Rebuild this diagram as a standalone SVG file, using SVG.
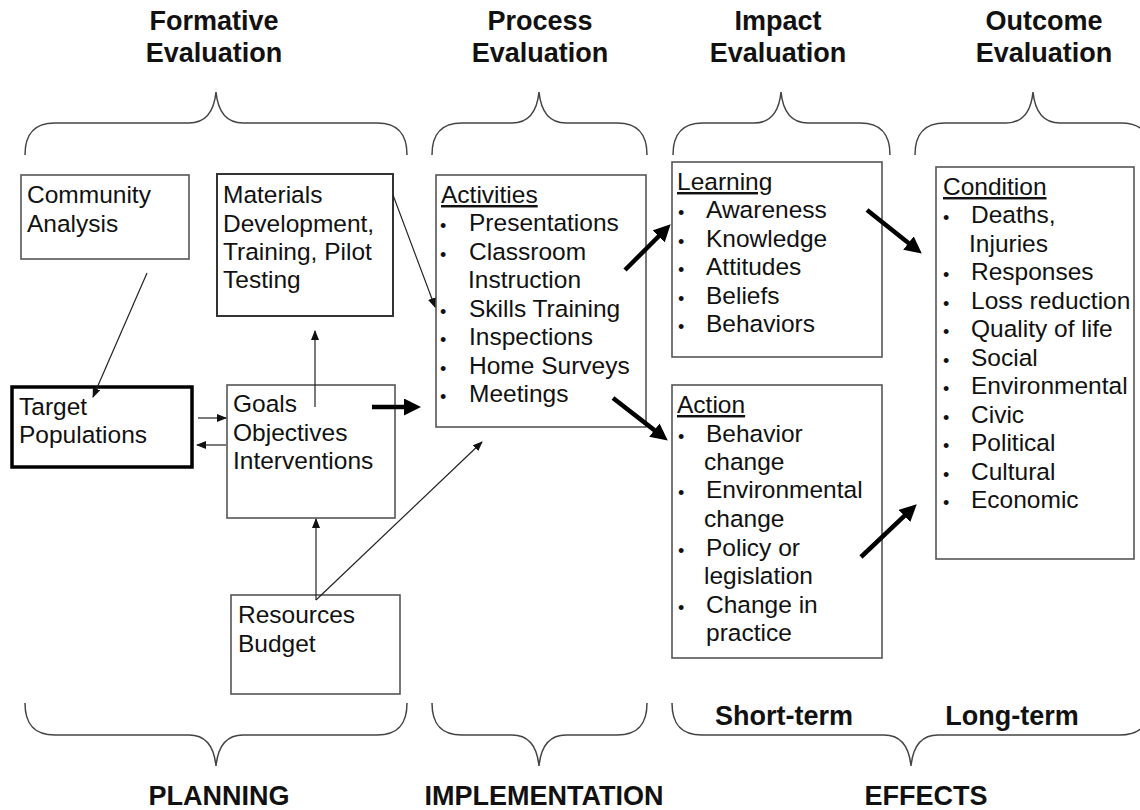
<svg xmlns="http://www.w3.org/2000/svg" width="1140" height="810" viewBox="0 0 1140 810">
<style>
  .t{font-family:"Liberation Sans",Arial,sans-serif;font-size:24.5px;fill:#111}
  .h{font-family:"Liberation Sans",Arial,sans-serif;font-size:27px;font-weight:bold;fill:#111;text-anchor:middle}
  .u{text-decoration:underline}
  .b{font-family:"Liberation Sans",Arial,sans-serif;font-size:18px;fill:#111}
  .box{fill:#fff;stroke:#555;stroke-width:1.6}
  .brace{fill:none;stroke:#444;stroke-width:1.5}
  .thin{stroke:#222;stroke-width:1.2;fill:none}
  .thick{stroke:#000;stroke-width:4.5;fill:none}
</style>
<defs>
  <marker id="ah" viewBox="0 0 10 8" markerWidth="10" markerHeight="8" refX="9" refY="4" orient="auto" markerUnits="userSpaceOnUse">
    <path d="M0,0 L10,4 L0,8 z" fill="#111"/>
  </marker>
  <marker id="ahb" viewBox="0 0 17 17" markerWidth="17" markerHeight="17" refX="4" refY="8.5" orient="auto" markerUnits="userSpaceOnUse">
    <path d="M0,0 L17,8.5 L0,17 z" fill="#000"/>
  </marker>
</defs>
<rect width="1140" height="810" fill="#fff"/>

<g id="titles">
  <text class="h" x="214" y="30">Formative</text>
  <text class="h" x="214" y="62">Evaluation</text>
  <text class="h" x="540" y="30">Process</text>
  <text class="h" x="540" y="62">Evaluation</text>
  <text class="h" x="778" y="30">Impact</text>
  <text class="h" x="778" y="62">Evaluation</text>
  <text class="h" x="1044" y="30">Outcome</text>
  <text class="h" x="1044" y="62">Evaluation</text>
  <text class="h" x="784" y="725">Short-term</text>
  <text class="h" x="1012" y="725">Long-term</text>
  <text class="h" x="219" y="805">PLANNING</text>
  <text class="h" x="544" y="805">IMPLEMENTATION</text>
  <text class="h" x="926" y="805">EFFECTS</text>
</g>

<g id="braces">
  <path class="brace" d="M25,155 C25,135 33,123 55,123 L189,123 C205,123 214,112 216,92 C218,112 227,123 243,123 L377,123 C399,123 407,135 407,155"/>
  <path class="brace" d="M432,155 C432,135 440,123 462,123 L512,123 C528,123 537,112 539,92 C541,112 550,123 566,123 L617,123 C639,123 647,135 647,155"/>
  <path class="brace" d="M673,155 C673,135 681,123 703,123 L754,123 C770,123 779,112 781,92 C783,112 792,123 808,123 L860,123 C882,123 890,135 890,155"/>
  <path class="brace" d="M915,155 C915,135 923,123 945,123 L1006,123 C1022,123 1031,112 1033,92 C1035,112 1044,123 1060,123 L1121,123 C1143,123 1151,135 1151,155"/>
  <path class="brace" d="M25,703 C25,723 33,735 55,735 L189,735 C205,735 214,746 216,766 C218,746 227,735 243,735 L377,735 C399,735 407,723 407,703"/>
  <path class="brace" d="M432,703 C432,723 440,735 462,735 L512,735 C528,735 537,746 539,766 C541,746 550,735 566,735 L617,735 C639,735 647,723 647,703"/>
  <path class="brace" d="M672,703 C672,723 680,735 702,735 L884,735 C900,735 909,746 911,766 C913,746 922,735 938,735 L1120,735 C1142,735 1150,723 1150,703"/>
</g>

<g id="community">
  <rect class="box" x="21" y="175" width="168" height="84"/>
  <text class="t" x="27" y="203">Community</text>
  <text class="t" x="27" y="232">Analysis</text>
</g>

<g id="materials">
  <rect class="box" x="217" y="174" width="176" height="142" style="stroke:#333;stroke-width:2"/>
  <text class="t" x="223" y="203">Materials</text>
  <text class="t" x="223" y="232">Development,</text>
  <text class="t" x="223" y="260">Training, Pilot</text>
  <text class="t" x="223" y="288">Testing</text>
</g>

<g id="target">
  <rect x="12" y="387" width="180" height="80" fill="#fff" stroke="#000" stroke-width="3.5"/>
  <text class="t" x="19" y="415">Target</text>
  <text class="t" x="19" y="443">Populations</text>
</g>

<g id="goals">
  <rect class="box" x="227" y="385" width="168" height="133"/>
  <text class="t" x="233" y="412">Goals</text>
  <text class="t" x="233" y="441">Objectives</text>
  <text class="t" x="233" y="469">Interventions</text>
</g>

<g id="resources">
  <rect class="box" x="231" y="595" width="169" height="99"/>
  <text class="t" x="238" y="623">Resources</text>
  <text class="t" x="238" y="652">Budget</text>
</g>

<g id="activities">
  <rect class="box" x="436" y="175" width="210" height="252"/>
  <text class="t u" x="441" y="203">Activities</text>
  <text class="b" x="440" y="232">•</text><text class="t" x="469" y="231">Presentations</text>
  <text class="b" x="440" y="261">•</text><text class="t" x="469" y="260">Classroom</text>
  <text class="t" x="468" y="288">Instruction</text>
  <text class="b" x="440" y="318">•</text><text class="t" x="469" y="317">Skills Training</text>
  <text class="b" x="440" y="346">•</text><text class="t" x="469" y="345">Inspections</text>
  <text class="b" x="440" y="375">•</text><text class="t" x="469" y="374">Home Surveys</text>
  <text class="b" x="440" y="403">•</text><text class="t" x="469" y="402">Meetings</text>
</g>

<g id="learning">
  <rect class="box" x="672" y="162" width="210" height="195"/>
  <text class="t u" x="677" y="190">Learning</text>
  <text class="b" x="678" y="219">•</text><text class="t" x="706" y="218">Awareness</text>
  <text class="b" x="678" y="248">•</text><text class="t" x="706" y="247">Knowledge</text>
  <text class="b" x="678" y="276">•</text><text class="t" x="706" y="275">Attitudes</text>
  <text class="b" x="678" y="305">•</text><text class="t" x="706" y="304">Beliefs</text>
  <text class="b" x="678" y="333">•</text><text class="t" x="706" y="332">Behaviors</text>
</g>

<g id="action">
  <rect class="box" x="672" y="385" width="210" height="273"/>
  <text class="t u" x="677" y="413">Action</text>
  <text class="b" x="678" y="443">•</text><text class="t" x="706" y="442">Behavior</text>
  <text class="t" x="704" y="470">change</text>
  <text class="b" x="678" y="499">•</text><text class="t" x="706" y="498">Environmental</text>
  <text class="t" x="704" y="527">change</text>
  <text class="b" x="678" y="557">•</text><text class="t" x="706" y="556">Policy or</text>
  <text class="t" x="704" y="584">legislation</text>
  <text class="b" x="678" y="614">•</text><text class="t" x="706" y="613">Change in</text>
  <text class="t" x="706" y="641">practice</text>
</g>

<g id="condition">
  <rect class="box" x="936" y="167" width="198" height="392"/>
  <text class="t u" x="943" y="195">Condition</text>
  <text class="b" x="943" y="224">•</text><text class="t" x="971" y="223">Deaths,</text>
  <text class="t" x="969" y="252">Injuries</text>
  <text class="b" x="943" y="281">•</text><text class="t" x="971" y="280">Responses</text>
  <text class="b" x="943" y="310">•</text><text class="t" x="971" y="309">Loss reduction</text>
  <text class="b" x="943" y="338">•</text><text class="t" x="971" y="337">Quality of life</text>
  <text class="b" x="943" y="367">•</text><text class="t" x="971" y="366">Social</text>
  <text class="b" x="943" y="395">•</text><text class="t" x="971" y="394">Environmental</text>
  <text class="b" x="943" y="424">•</text><text class="t" x="971" y="423">Civic</text>
  <text class="b" x="943" y="452">•</text><text class="t" x="971" y="451">Political</text>
  <text class="b" x="943" y="481">•</text><text class="t" x="971" y="480">Cultural</text>
  <text class="b" x="943" y="509">•</text><text class="t" x="971" y="508">Economic</text>
</g>

<g id="connectors">
  <line class="thin" x1="147" y1="273" x2="93" y2="397" marker-end="url(#ah)"/>
  <line class="thin" x1="393" y1="195" x2="435" y2="307" marker-end="url(#ah)"/>
  <line class="thin" x1="315" y1="407" x2="315" y2="331" marker-end="url(#ah)"/>
  <line class="thin" x1="198" y1="418" x2="226" y2="418" marker-end="url(#ah)"/>
  <line class="thin" x1="226" y1="445" x2="197" y2="445" marker-end="url(#ah)"/>
  <line class="thin" x1="316" y1="600" x2="316" y2="519" marker-end="url(#ah)"/>
  <line class="thin" x1="316" y1="600" x2="482" y2="442" marker-end="url(#ah)"/>
  <line class="thick" x1="372" y1="407" x2="408" y2="407" marker-end="url(#ahb)"/>
  <line class="thick" x1="625" y1="270" x2="661.5" y2="233.5" marker-end="url(#ahb)"/>
  <line class="thick" x1="613" y1="398" x2="657.5" y2="432.6" marker-end="url(#ahb)"/>
  <line class="thick" x1="867" y1="210" x2="911.6" y2="245.5" marker-end="url(#ahb)"/>
  <line class="thick" x1="861" y1="557" x2="907.3" y2="513.2" marker-end="url(#ahb)"/>
</g>
</svg>
